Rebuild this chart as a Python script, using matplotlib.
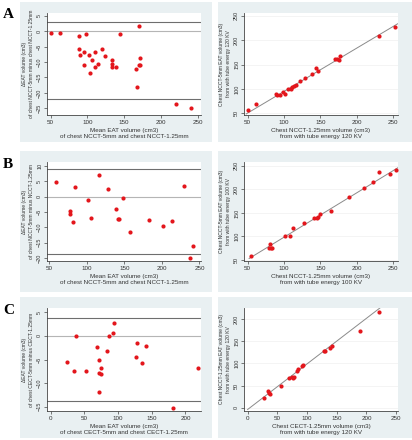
import matplotlib
matplotlib.use("Agg")
import matplotlib.pyplot as plt
from matplotlib.patches import Rectangle

plt.rcParams['font.family'] = ['Liberation Sans', 'DejaVu Sans']

# ---------------- data ----------------
# Panel A (NCCT 120 KV)
a_mean = [50, 63, 88, 98, 88, 90, 96, 96, 102, 106, 104, 110, 110, 114, 120, 124,
          133, 133, 134, 139, 144, 166, 168, 170, 170, 172, 172, 220, 241]
a_diff = [-0.5, -0.5, -1.5, -0.9, -5.7, -7.6, -6.7, -11, -7.6, -9.4, -13.7, -11.7,
          -6.6, -10.8, -5.9, -8, -9.4, -10.6, -11.7, -11.7, -1.0, -12.4, -18, 1.8,
          -10.9, -11.1, -8.7, -23.5, -24.8]
a_loa = [3.1, -21.9]
a_x = [50, 61, 89, 91, 94, 99, 101, 105, 110, 111, 114, 117, 122, 129, 139, 144,
       146, 170, 173, 175, 177, 231, 252]
a_y = [57, 68.5, 89, 87, 88, 94, 89, 99, 99, 103, 106, 108, 117, 123, 130, 144,
       136, 161, 162, 160, 168, 209, 228]
a_fit = (0.89, 6.0)
a_r = 0.98

# Panel B (NCCT 100 KV)
b_mean = [59, 116, 84, 128, 101, 148, 78, 78, 81, 105, 139, 141, 143, 158, 183,
          202, 214, 229, 242, 237]
b_diff = [4.6, 7.0, 3.0, 2.6, -1.1, -0.6, -4.6, -5.6, -8.1, -7.0, -3.9, -7.3, -7.3,
          -11.4, -7.6, -9.7, -7.9, 3.4, -16, -19.9]
b_loa = [8.9, -18.6]
b_x = [55, 80, 81, 82, 84, 101, 109, 112, 128, 142, 145, 147, 149, 165, 189, 210,
       222, 231, 246, 254]
b_y = [59, 75, 85, 75, 76, 101, 101, 119, 129, 139, 139, 141, 148, 154, 183, 202,
       215, 237, 232, 240]
b_fit = (0.94, 4.4)
b_r = 0.96

# Panel C (CECT 120 KV)
c_mean = [37, 24, 34, 53, 69, 72, 72, 75, 75, 72, 83, 87, 92, 94, 126, 128, 136,
          141, 181, 218]
c_diff = [-0.1, -5.6, -7.5, -7.5, -2.4, -5.0, -7.8, -8.1, -6.7, -11.8, -3.2, 0,
          0.6, 2.7, -4.5, -1.5, -5.7, -2.1, -15.2, -6.7]
c_loa = [3.7, -13.7]
c_x = [27, 35, 37, 36, 57, 70, 75, 77, 78, 83, 85, 91, 93, 128, 130, 138, 142,
       189, 221]
c_y = [21, 38, 31, 34, 49, 68, 69, 66, 70, 83, 87, 93, 96, 127, 129, 134, 140,
       174, 217]
c_fit = (1.03, -4.2)
c_r = 0.98

W, H = 412, 440
BG = '#e9f0f2'
RED = '#e3161c'
TXT = '#333333'
XFS = 4.5   # horizontal text size
YFS = 3.6   # vertical (rotated) text size

fig = plt.figure(figsize=(W / 100, H / 100), dpi=100)
fig.patch.set_facecolor('white')


def bg(x0, y0, x1, y1):
    fig.patches.append(Rectangle((x0 / W, 1 - y1 / H), (x1 - x0) / W, (y1 - y0) / H,
                                 transform=fig.transFigure, facecolor=BG,
                                 edgecolor='none', zorder=-10))


def axes(x0, y0, x1, y1):
    ax = fig.add_axes([x0 / W, 1 - y1 / H, (x1 - x0) / W, (y1 - y0) / H])
    ax.set_zorder(5)
    ax.set_facecolor('white')
    for s in ['top', 'right']:
        ax.spines[s].set_visible(False)
    for s in ['left', 'bottom']:
        ax.spines[s].set_color('#444444')
        ax.spines[s].set_linewidth(0.6)
    ax.tick_params(length=2, width=0.5, colors='#444444', labelcolor=TXT, pad=1.5)
    ax.tick_params(axis='x', labelsize=XFS)
    ax.tick_params(axis='y', labelsize=YFS + 0.4, labelrotation=90)
    return ax


def style_y(ax):
    for lab in ax.get_yticklabels():
        lab.set_va('center')


rows = [
    dict(top=2, bot=142, ptop=13, pbot=115,
         mean=a_mean, diff=a_diff, loa=a_loa,
         lx=(45, 254.5), ly=(-27.2, 5.9), lxt=[50, 100, 150, 200, 250],
         lyt=[-25, -20, -15, -10, -5, 0, 5],
         x=a_x, y=a_y, fit=a_fit, r=a_r,
         rx=(45, 256.5), ry=(46.5, 256), rxt=[50, 100, 150, 200, 250],
         ryt=[50, 100, 150, 200, 250], fitx=(48, 256),
         kv='120', lbl='A',
         ylab_r='Chest NCCT-5mm EAT volume (cm3)', xlab_r='Chest NCCT-1.25mm volume (cm3)',
         ylab_l='of chest NCCT-5mm minus chest NCCT-1.25mm',
         xlab_l='of chest NCCT-5mm and chest NCCT-1.25mm', txt=(343, 81, 89)),
    dict(top=151, bot=292, ptop=162, pbot=261,
         mean=b_mean, diff=b_diff, loa=b_loa,
         lx=(47, 252), ly=(-20.9, 11.2), lxt=[50, 100, 150, 200, 250],
         lyt=[-20, -15, -10, -5, 0, 5, 10],
         x=b_x, y=b_y, fit=b_fit, r=b_r,
         rx=(45, 257), ry=(48, 258), rxt=[50, 100, 150, 200, 250],
         ryt=[50, 100, 150, 200, 250], fitx=(52, 257),
         lbl='B',
         ylab_r='Chest NCCT-5mm EAT volume (cm3)', xlab_r='Chest NCCT-1.25mm volume (cm3)',
         ylab_l='of chest NCCT-5mm minus NCCT-1.25mm',
         xlab_l='of chest NCCT-5mm and chest NCCT-1.25mm', kv='100', txt=(338, 226, 238)),
    dict(top=297, bot=438, ptop=308, pbot=411,
         mean=c_mean, diff=c_diff, loa=c_loa,
         lx=(-5.5, 223), ly=(-15.9, 5.9), lxt=[0, 50, 100, 150, 200],
         lyt=[-15, -10, -5, 0, 5],
         x=c_x, y=c_y, fit=c_fit, r=c_r,
         rx=(-6, 253), ry=(-7.5, 225), rxt=[0, 50, 100, 150, 200, 250],
         ryt=[0, 50, 100, 150, 200], fitx=(0, 230),
         lbl='C',
         ylab_r='Chest NCCT-1.25mm EAT volume (cm3)', xlab_r='Chest CECT-1.25mm volume (cm3)',
         ylab_l='of chest CECT-5mm minus CECT-1.25mm',
         xlab_l='of chest CECT-5mm and chest CECT-1.25mm', kv='120', txt=(336, 386, 395)),
]

for R in rows:
    bg(20, R['top'], 212, R['bot'])
    bg(218, R['top'], 412, R['bot'])
    fig.text(3 / W, 1 - (R['top'] + 13) / H, R['lbl'], family='Liberation Serif',
             fontweight='bold', fontsize=11, va='center', ha='left', color='black')

    # --- Bland-Altman ---
    ax = axes(47, R['ptop'], 201, R['pbot'])
    ax.axhline(0, color='#b5b5b5', lw=0.8, zorder=1)
    for v in R['loa']:
        ax.axhline(v, color='#6e6e6e', lw=0.8, zorder=1)
    ax.scatter(R['mean'], R['diff'], s=9, color=RED, marker='o', lw=0, zorder=3)
    ax.set_xlim(*R['lx'])
    ax.set_ylim(*R['ly'])
    ax.set_xticks(R['lxt'])
    ax.set_yticks(R['lyt'])
    style_y(ax)
    ax.set_ylabel('\u0394EAT volume (cm3)\n' + R['ylab_l'], fontsize=YFS, color=TXT,
                  labelpad=2, linespacing=1.5)
    ax.set_xlabel('Mean EAT volume (cm3)\n' + R['xlab_l'], fontsize=XFS, color=TXT,
                  labelpad=2, linespacing=1.3)

    # --- Correlation ---
    ax2 = axes(244, R['ptop'], 398, R['pbot'])
    ax2.set_axisbelow(True)
    ax2.grid(axis='y', color='#f0f0f0', lw=0.5)
    fx = list(R['fitx'])
    fy = [R['fit'][0] * v + R['fit'][1] for v in fx]
    ax2.plot(fx, fy, color='#8a8a8a', lw=0.7, zorder=2)
    ax2.scatter(R['x'], R['y'], s=9, color=RED, marker='o', lw=0, zorder=3)
    ax2.set_xlim(*R['rx'])
    ax2.set_ylim(*R['ry'])
    ax2.set_xticks(R['rxt'])
    ax2.set_yticks(R['ryt'])
    style_y(ax2)
    ax2.set_ylabel(R['ylab_r'] + '\nfrom with tube energy %s KV' % R['kv'], fontsize=YFS,
                   color=TXT, labelpad=2, linespacing=1.5)
    ax2.set_xlabel(R['xlab_r'] + '\nfrom with tube energy %s KV' % R['kv'], fontsize=XFS,
                   color=TXT, labelpad=2, linespacing=1.3)
    a, b = R['fit']
    sign = '+' if b >= 0 else '\u2013'
    tx, ty1, ty2 = R['txt']
    fig.text(tx / W, 1 - ty1 / H, 'y = %.2f * x %s %.1f' % (a, sign, abs(b)),
             fontsize=XFS, color=TXT, va='center', ha='left')
    fig.text(tx / W, 1 - ty2 / H, 'r = %.2f' % R['r'], fontsize=XFS, color=TXT,
             va='center', ha='left')

fig.savefig('out.png', dpi=100, facecolor='white')
